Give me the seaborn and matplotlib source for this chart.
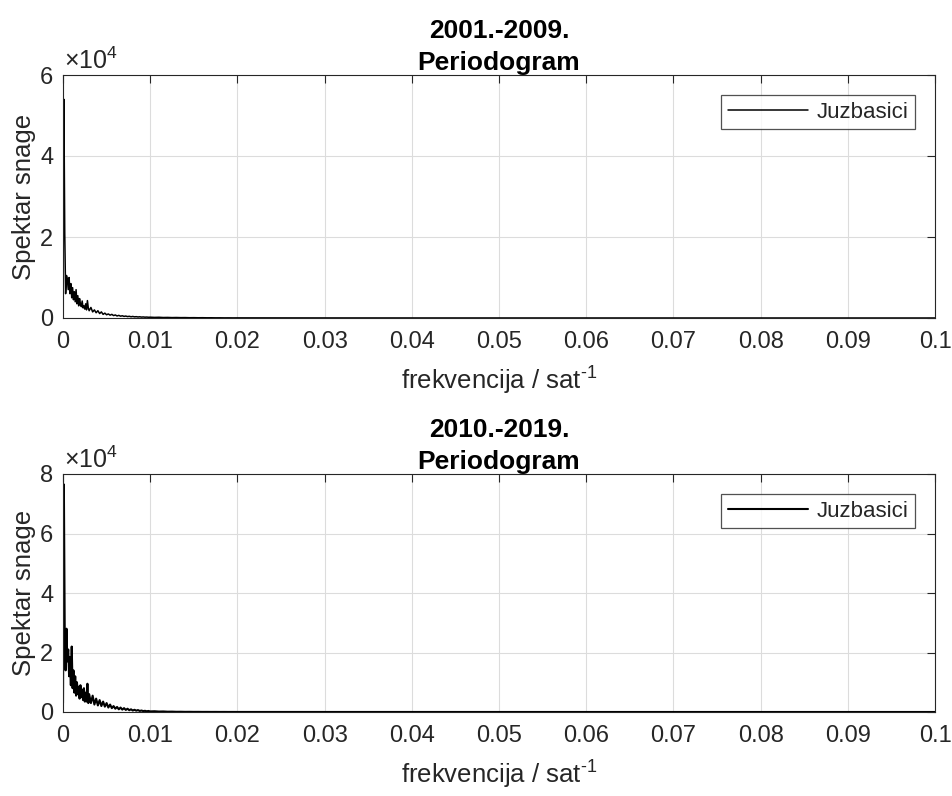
import numpy as np
import pandas as pd
import matplotlib
matplotlib.use("Agg")
import matplotlib.pyplot as plt
from matplotlib.ticker import FuncFormatter, MultipleLocator
import seaborn as sns

# ---------------- data ----------------
freq = [0.0000, 0.0001, 0.0002, 0.0003, 0.0004, 0.0005, 0.0006, 0.0007, 0.0008, 0.0009,
        0.0010, 0.0011, 0.0012, 0.0013, 0.0014, 0.0015, 0.0016, 0.0017, 0.0018, 0.0019,
        0.0020, 0.0021, 0.0022, 0.0023, 0.0024, 0.0025, 0.0026, 0.0027, 0.0028, 0.0029,
        0.0030,
        0.0032, 0.0034, 0.0036, 0.0038, 0.0040, 0.0042, 0.0044, 0.0046, 0.0048, 0.0050,
        0.0052, 0.0054, 0.0056, 0.0058, 0.0060, 0.0062, 0.0064, 0.0066, 0.0068, 0.0070,
        0.0072, 0.0074, 0.0076, 0.0078, 0.0080, 0.0082, 0.0084, 0.0086, 0.0088, 0.0090,
        0.0092, 0.0094, 0.0096, 0.0098, 0.0100,
        0.0105, 0.0110, 0.0115, 0.0120, 0.0125, 0.0130, 0.0135, 0.0140, 0.0145, 0.0150,
        0.0155, 0.0160, 0.0165, 0.0170, 0.0175, 0.0180, 0.0185, 0.0190, 0.0195, 0.0200,
        0.03, 0.04, 0.05, 0.06, 0.07, 0.08, 0.09, 0.10]

power_2001_2009 = [2000, 54000, 21000, 6000, 10500, 9500, 7000, 10000, 6000, 8500,
                   5000, 7500, 4500, 6500, 4000, 7000, 3500, 5500, 3000, 4800,
                   3500, 2800, 4200, 2500, 3000, 2200, 3500, 2000, 4300, 2500,
                   1800,
                   2600, 1500, 2000, 1300, 1800, 1100, 1500, 900, 1200, 800,
                   1000, 700, 900, 600, 750, 500, 650, 450, 550, 400,
                   480, 350, 420, 300, 380, 280, 330, 250, 300, 220,
                   260, 200, 230, 180, 200,
                   150, 180, 120, 140, 100, 120, 90, 100, 70, 80,
                   60, 70, 50, 55, 40, 45, 30, 35, 25, 30,
                   15, 10, 8, 6, 5, 4, 3, 3]

power_2010_2019 = [3000, 76500, 26500, 14000, 28000, 17000, 21000, 12000, 18500, 9000,
                   22000, 8000, 14000, 6500, 12000, 5500, 10000, 6000, 8500, 4500,
                   9000, 5000, 7500, 4000, 8000, 3500, 6500, 3500, 9500, 3000,
                   6000,
                   3000, 5500, 2500, 4500, 2200, 4000, 2000, 3500, 1800, 3000,
                   1500, 2500, 1300, 2000, 1100, 1700, 900, 1500, 800, 1300,
                   700, 1100, 600, 900, 500, 750, 450, 650, 350, 500,
                   300, 400, 250, 350, 200,
                   250, 150, 180, 100, 120, 70, 80, 50, 60, 40,
                   45, 30, 35, 25, 30, 20, 25, 15, 20, 15,
                   10, 8, 6, 5, 4, 3, 3, 2]

titles = ["2001.-2009.\nPeriodogram", "2010.-2019.\nPeriodogram"]
series_label = "Juzbasici"
ymax = [60000, 80000]
ystep = [20000, 20000]
xlabel = r"frekvencija / sat$^{\text{-}1}$"
ylabel = "Spektar snage"

# ---------------- style ----------------
sns.set_style("white")
plt.rcParams["font.family"] = ["Liberation Sans", "DejaVu Sans"]
plt.rcParams["mathtext.fontset"] = "custom"
plt.rcParams["mathtext.rm"] = "Liberation Sans"
plt.rcParams["mathtext.it"] = "Liberation Sans:italic"
plt.rcParams["mathtext.bf"] = "Liberation Sans:bold"

dark = "#262626"
fig = plt.figure(figsize=(9.52, 7.96), dpi=100)
ax_rects = [[63/952, 1-318/796, 872/952, 243/796],
            [63/952, 1-712/796, 872/952, 238/796]]
lws = [1.1, 1.5]

for i, (title, power) in enumerate(zip(titles, [power_2001_2009, power_2010_2019])):
    ax = fig.add_axes(ax_rects[i])
    df = pd.DataFrame({"f": freq, "p": power})
    sns.lineplot(data=df, x="f", y="p", ax=ax, color="black", lw=lws[i],
                 label=series_label, estimator=None, sort=True)
    ax.set_xlim(0, 0.1)
    ax.set_ylim(0, ymax[i])
    ax.xaxis.set_major_locator(MultipleLocator(0.01))
    ax.yaxis.set_major_locator(MultipleLocator(ystep[i]))
    ax.xaxis.set_major_formatter(FuncFormatter(lambda v, p: "%g" % round(v, 4)))
    ax.yaxis.set_major_formatter(FuncFormatter(lambda v, p: "%g" % (v / 1e4)))
    ax.grid(True, color="#dcdcdc", lw=0.8)
    ax.tick_params(direction="in", length=6, width=0.8, top=True, right=True,
                   labelsize=17, colors=dark)
    ax.tick_params(axis="x", pad=9)
    ax.tick_params(axis="y", pad=7)
    for s in ax.spines.values():
        s.set_color(dark)
        s.set_linewidth(0.8)
    ax.set_xlabel(xlabel, fontsize=18.5, color=dark, labelpad=9)
    ax.set_ylabel(ylabel, fontsize=18.5, color=dark, labelpad=3)
    ax.set_title(title, fontsize=19, fontweight="bold", color="black",
                 linespacing=1.45, pad=3.5)
    ax.annotate(r"$\times$10$^4$", xy=(0, 1), xycoords="axes fraction",
                xytext=(1, 4), textcoords="offset points", fontsize=18,
                color=dark, ha="left", va="baseline")
    leg = ax.legend(loc="upper right", fontsize=16, frameon=True, fancybox=False,
                    edgecolor=dark, handlelength=3.6, handletextpad=0.4,
                    borderaxespad=0.9, borderpad=0.3)
    leg.get_frame().set_linewidth(0.9)

fig.savefig("out.png", dpi=100)
